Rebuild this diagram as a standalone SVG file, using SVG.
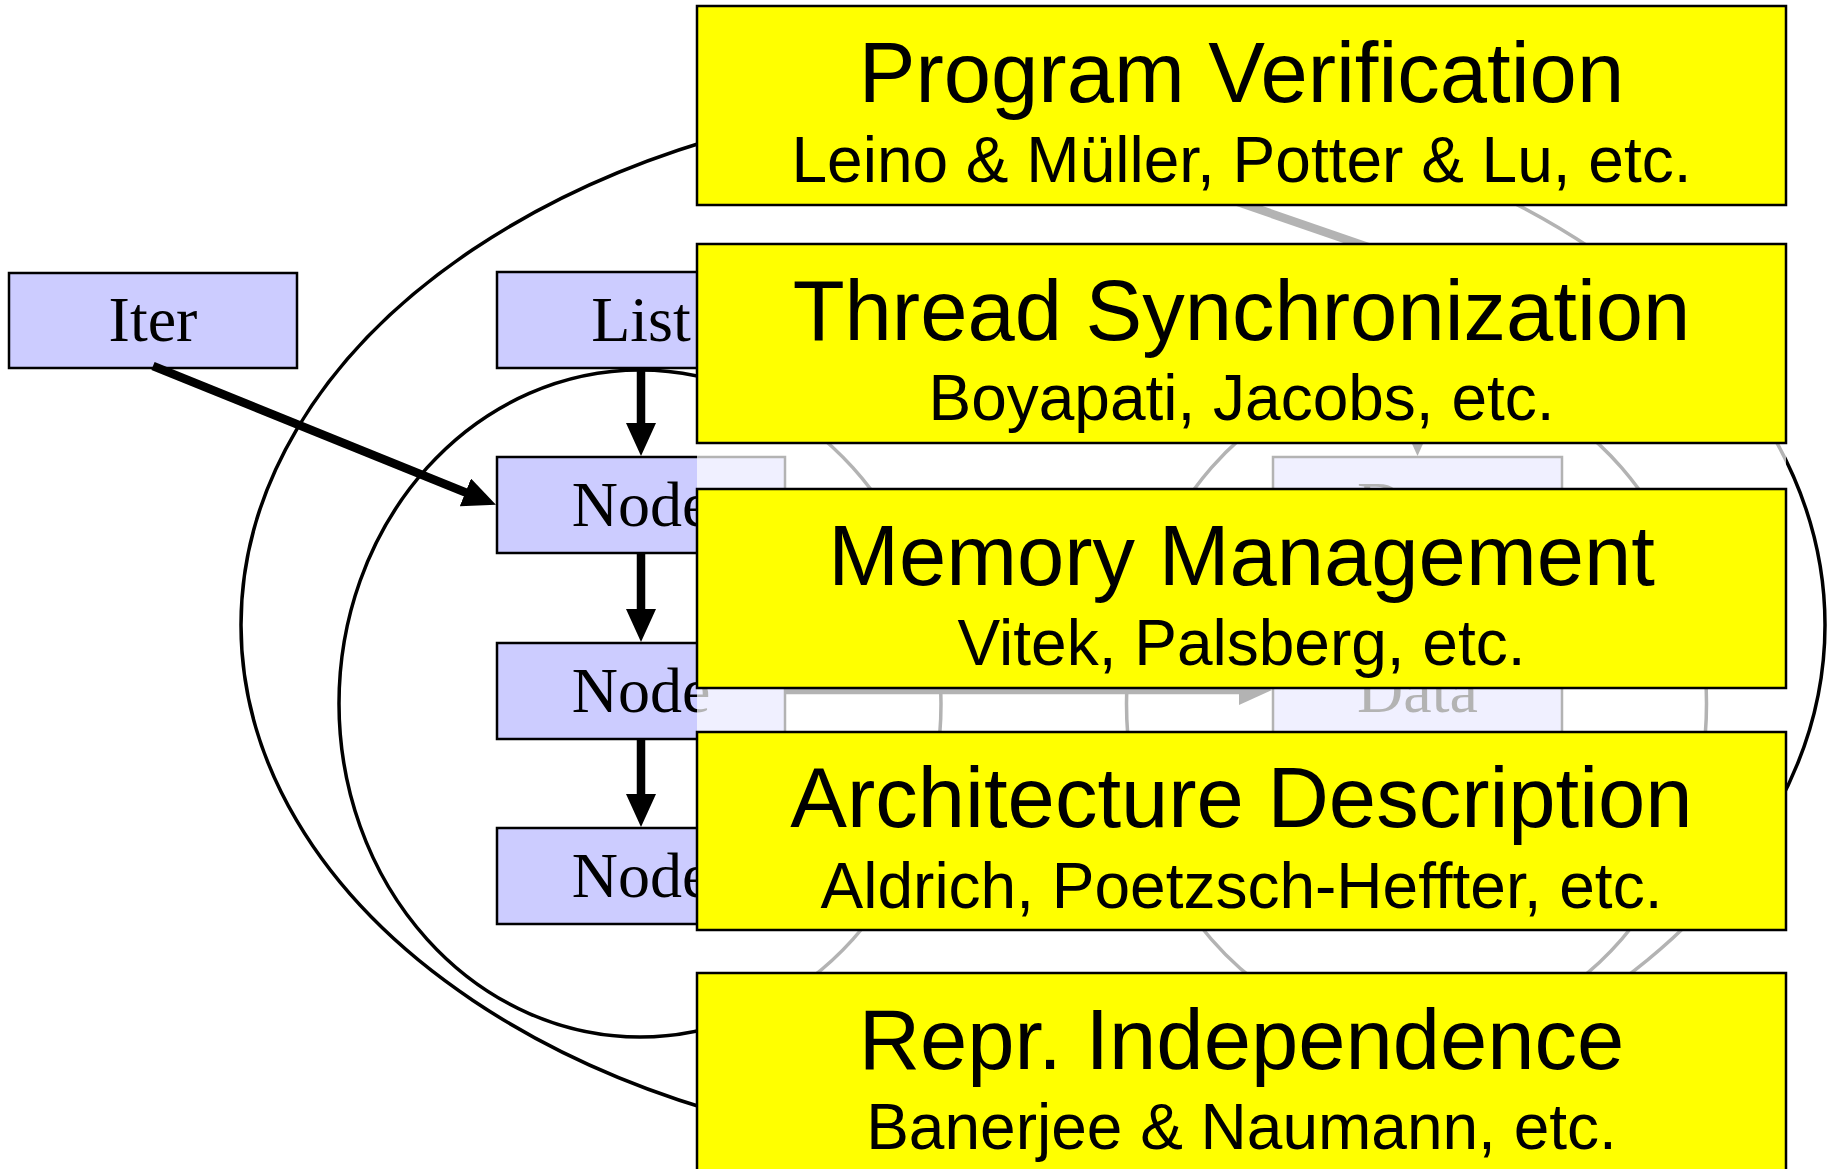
<svg xmlns="http://www.w3.org/2000/svg" width="1827" height="1169" viewBox="0 0 1827 1169">
<defs>
<style>
.cls{fill:#ccccff;stroke:#000;stroke-width:2.5}
.lbl{font-family:"Liberation Serif","Times New Roman",serif;font-size:64px;text-anchor:middle;fill:#000}
.own{fill:none;stroke:#000;stroke-width:3.5}
.edge{stroke:#000;stroke-width:8.5;fill:none}
.topic{fill:#ffff00;stroke:#000;stroke-width:2.5}
.t1{font-family:"Liberation Sans",Arial,sans-serif;font-size:85px;text-anchor:middle;fill:#000}
.t2{font-family:"Liberation Sans",Arial,sans-serif;font-size:64px;text-anchor:middle;fill:#000}
.fade{fill:#ffffff;fill-opacity:0.7}
</style>
<marker id="ah" viewBox="0 -15 33 30" refX="1" refY="0" markerWidth="33" markerHeight="30" markerUnits="userSpaceOnUse" orient="auto"><path d="M0,-15 L33,0 L0,15 z" fill="#000"/></marker>
</defs>
<rect width="1827" height="1169" fill="#ffffff"/>

<g id="ownership-contexts">
<ellipse id="outer-context" class="own" cx="1033" cy="625" rx="792" ry="531"/>
<ellipse id="list-context" class="own" cx="640" cy="703.5" rx="301" ry="333.5"/>
<ellipse id="data-context" class="own" cx="1416.5" cy="703.5" rx="290" ry="333.5"/>
</g>

<g id="iter"><rect class="cls" x="9" y="273" width="288" height="95"/><text class="lbl" x="153" y="341">Iter</text></g>
<g id="list"><rect class="cls" x="497" y="272" width="288" height="96"/><text class="lbl" x="641" y="341">List</text></g>
<g id="node1"><rect class="cls" x="497" y="457" width="288" height="96"/><text class="lbl" x="641" y="526">Node</text></g>
<g id="node2"><rect class="cls" x="497" y="643" width="288" height="96"/><text class="lbl" x="641" y="712">Node</text></g>
<g id="node3"><rect class="cls" x="497" y="828" width="288" height="96"/><text class="lbl" x="641" y="897">Node</text></g>
<g id="data1"><rect class="cls" x="1273" y="457" width="289" height="96"/><text class="lbl" x="1417.5" y="526">Data</text></g>
<g id="data2"><rect class="cls" x="1273" y="643" width="289" height="96"/><text class="lbl" x="1417.5" y="712">Data</text></g>

<g id="connectors">
<line class="edge" x1="153" y1="366" x2="466.3" y2="492.8" marker-end="url(#ah)"/>
<line class="edge" x1="641" y1="368" x2="641" y2="424" marker-end="url(#ah)"/>
<line class="edge" x1="641" y1="553" x2="641" y2="610" marker-end="url(#ah)"/>
<line class="edge" x1="641" y1="739" x2="641" y2="795" marker-end="url(#ah)"/>
<line class="edge" x1="785" y1="690" x2="1240" y2="690" marker-end="url(#ah)"/>
<line class="edge" x1="1417.5" y1="380" x2="1417.5" y2="424" marker-end="url(#ah)"/>
<line class="edge" x1="1200" y1="189" x2="1400" y2="258"/>
</g>

<rect id="fade-overlay" class="fade" x="697" y="0" width="1089" height="1169"/>

<g id="program-verification"><rect class="topic" x="697" y="6" width="1089" height="199"/><text class="t1" x="1241.5" y="102">Program Verification</text><text class="t2" x="1241.5" y="182">Leino &amp; Müller, Potter &amp; Lu, etc.</text></g>
<g id="thread-synchronization"><rect class="topic" x="697" y="244" width="1089" height="199"/><text class="t1" x="1241.5" y="340">Thread Synchronization</text><text class="t2" x="1241.5" y="420">Boyapati, Jacobs, etc.</text></g>
<g id="memory-management"><rect class="topic" x="697" y="489" width="1089" height="199"/><text class="t1" x="1241.5" y="585">Memory Management</text><text class="t2" x="1241.5" y="665">Vitek, Palsberg, etc.</text></g>
<g id="architecture-description"><rect class="topic" x="697" y="732" width="1089" height="198"/><text class="t1" x="1241.5" y="827">Architecture Description</text><text class="t2" x="1241.5" y="908">Aldrich, Poetzsch-Heffter, etc.</text></g>
<g id="repr-independence"><rect class="topic" x="697" y="973" width="1089" height="199"/><text class="t1" x="1241.5" y="1069">Repr. Independence</text><text class="t2" x="1241.5" y="1149">Banerjee &amp; Naumann, etc.</text></g>
</svg>
